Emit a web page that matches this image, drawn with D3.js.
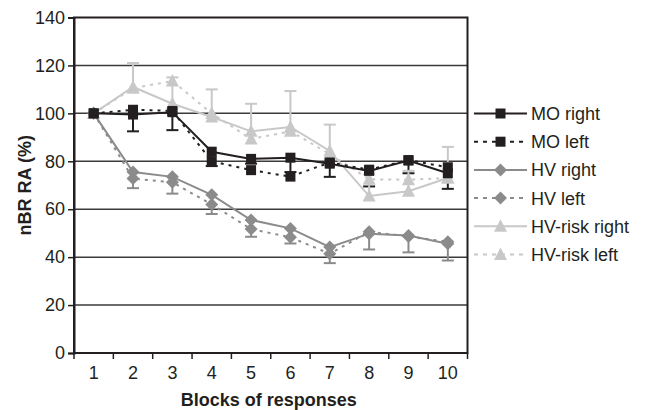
<html>
  <head>
    <style>
      body {
        margin: 0;
        background: #fff;
      }
      text {
        font-family: "Liberation Sans", Arial, sans-serif;
        fill: #231f20;
      }
    </style>
  </head>
  <body>
    <div id="chart"></div>
    <script src="https://d3js.org/d3.v7.min.js"></script>
    <script>
      var blocks = [1, 2, 3, 4, 5, 6, 7, 8, 9, 10];
      var yTicks = [0, 20, 40, 60, 80, 100, 120, 140];

      var moRight = [100, 99.5, 100.5, 84, 81, 81.5, 79, 76, 80.3, 75];
      var moLeft = [100, 101.5, 101, 80, 76.3, 73.6, 79.5, 76.5, 80.5, 77.5];
      var hvRight = [100, 75.5, 73.5, 66, 55.5, 52, 44.2, 49.8, 49, 45.6];
      var hvLeft = [100, 72.8, 71.2, 62, 51.7, 48.3, 41.4, 50.6, 48.6, 46.4];
      var riskRight = [100, 111, 104, 98.5, 92.5, 94.3, 84.3, 65.5, 67.5, 73];
      var riskLeft = [100, 110.5, 113.5, 100, 89.3, 92.5, 83, 72.5, 72.3, 73];

      // one-sided error bars as in the original
      var moErr = [0, 7, 7.5, 6, 2, 6, 5.5, 6.5, 5.3, 6.5];
      var hvErr = [0, 6.7, 7, 8, 7, 6.3, 6.7, 6.6, 7, 7];
      var riskErr = [0, 10, 11, 11.5, 11.5, 15, 11, 9, 8.5, 13];

      var series = [
        { name: "MO right", values: moRight, color: "#231f20", dash: null, shape: "square" },
        { name: "MO left", values: moLeft, color: "#231f20", dash: "3,5", shape: "square" },
        { name: "HV right", values: hvRight, color: "#8b8b8b", dash: null, shape: "diamond" },
        { name: "HV left", values: hvLeft, color: "#8b8b8b", dash: "3,5", shape: "diamond" },
        { name: "HV-risk right", values: riskRight, color: "#c8c8c8", dash: null, shape: "triangle" },
        { name: "HV-risk left", values: riskLeft, color: "#c8c8c8", dash: "3,5", shape: "triangle" }
      ];

      var errors = [
        { values: moRight, err: moErr, dir: -1, color: "#231f20" },
        { values: hvRight, err: hvErr, dir: -1, color: "#8b8b8b" },
        { values: riskRight, err: riskErr, dir: 1, color: "#c8c8c8" }
      ];

      var width = 646,
        height = 410,
        plotLeft = 74,
        plotRight = 467.5,
        plotTop = 17.5,
        plotBottom = 353,
        fontSize = "18px";

      var svg = d3
        .select("#chart")
        .append("svg")
        .attr("width", width)
        .attr("height", height);

      var x = d3.scaleBand().domain(blocks).range([plotLeft, plotRight]);
      var y = d3.scaleLinear().domain([0, 140]).range([plotBottom, plotTop]);

      // gridlines
      svg
        .append("g")
        .selectAll("line")
        .data(yTicks.slice(1, -1))
        .enter()
        .append("line")
        .attr("x1", plotLeft)
        .attr("x2", plotRight)
        .attr("y1", function (d) { return y(d); })
        .attr("y2", function (d) { return y(d); })
        .attr("stroke", "#3a3a3a")
        .attr("stroke-width", 1.5);

      // frame
      svg
        .append("rect")
        .attr("x", plotLeft)
        .attr("y", plotTop)
        .attr("width", plotRight - plotLeft)
        .attr("height", plotBottom - plotTop)
        .attr("fill", "none")
        .attr("stroke", "#231f20")
        .attr("stroke-width", 2);

      // y axis
      var yAxis = svg
        .append("g")
        .attr("transform", "translate(" + plotLeft + ",0)")
        .call(d3.axisLeft(y).tickValues(yTicks).tickSize(6).tickPadding(3));
      yAxis.select(".domain").attr("stroke", "#231f20").attr("stroke-width", 2);
      yAxis.selectAll(".tick line").attr("stroke", "#231f20").attr("stroke-width", 1.5);
      yAxis.selectAll("text").style("font-size", fontSize).attr("fill", "#231f20");

      // x axis: ticks sit between the blocks
      var xAxis = svg
        .append("g")
        .attr("transform", "translate(0," + plotBottom + ")")
        .call(d3.axisBottom(x).tickSize(0).tickPadding(13));
      xAxis.select(".domain").remove();
      xAxis.selectAll("text").style("font-size", fontSize).attr("fill", "#231f20");
      svg
        .append("g")
        .selectAll("line")
        .data(blocks.concat([11]))
        .enter()
        .append("line")
        .attr("x1", function (d) { return d === 11 ? plotRight : x(d); })
        .attr("x2", function (d) { return d === 11 ? plotRight : x(d); })
        .attr("y1", plotBottom)
        .attr("y2", plotBottom + 6)
        .attr("stroke", "#231f20")
        .attr("stroke-width", 1.5);

      // axis titles
      svg
        .append("text")
        .attr("x", (plotLeft + plotRight) / 2 - 2)
        .attr("y", 406)
        .attr("text-anchor", "middle")
        .style("font-size", fontSize)
        .style("font-weight", "bold")
        .text("Blocks of responses");

      svg
        .append("text")
        .attr("transform", "translate(31," + (plotTop + plotBottom) / 2 + ") rotate(-90)")
        .attr("text-anchor", "middle")
        .style("font-size", fontSize)
        .style("font-weight", "bold")
        .text("nBR RA (%)");

      function cx(i) {
        return x(blocks[i]) + x.bandwidth() / 2;
      }

      function marker(sel, shape, color) {
        if (shape === "square") {
          sel.append("rect").attr("x", -5).attr("y", -5).attr("width", 10).attr("height", 10).attr("fill", color);
        } else if (shape === "diamond") {
          sel.append("path").attr("d", "M0,-6.5L6.5,0L0,6.5L-6.5,0Z").attr("fill", color);
        } else {
          sel.append("path").attr("d", "M0,-7L6.5,5.5L-6.5,5.5Z").attr("fill", color);
        }
      }

      // error bars
      errors.forEach(function (e) {
        var g = svg.append("g");
        e.values.forEach(function (v, i) {
          if (!e.err[i]) return;
          var yEnd = y(v + e.dir * e.err[i]);
          g.append("line")
            .attr("x1", cx(i)).attr("x2", cx(i))
            .attr("y1", y(v)).attr("y2", yEnd)
            .attr("stroke", e.color).attr("stroke-width", 2);
          g.append("line")
            .attr("x1", cx(i) - 6).attr("x2", cx(i) + 6)
            .attr("y1", yEnd).attr("y2", yEnd)
            .attr("stroke", e.color).attr("stroke-width", 2);
        });
      });

      var line = d3
        .line()
        .x(function (d, i) { return cx(i); })
        .y(function (d) { return y(d); });

      // draw lighter series first so the black ones sit on top
      series.slice().reverse().forEach(function (s) {
        svg
          .append("path")
          .datum(s.values)
          .attr("d", line)
          .attr("fill", "none")
          .attr("stroke", s.color)
          .attr("stroke-width", 2)
          .attr("stroke-dasharray", s.dash);
        s.values.forEach(function (v, i) {
          var g = svg.append("g").attr("transform", "translate(" + cx(i) + "," + y(v) + ")");
          marker(g, s.shape, s.color);
        });
      });

      // legend
      var legend = svg
        .append("g")
        .selectAll("g")
        .data(series)
        .enter()
        .append("g")
        .attr("transform", function (d, i) {
          return "translate(474," + (113.5 + i * 28.2) + ")";
        });

      legend
        .append("line")
        .attr("x1", 0)
        .attr("x2", 53)
        .attr("stroke", function (d) { return d.color; })
        .attr("stroke-width", 2)
        .attr("stroke-dasharray", function (d) { return d.dash ? "4,5" : null; });

      legend.each(function (d) {
        var g = d3.select(this).append("g").attr("transform", "translate(26.5,0)");
        marker(g, d.shape, d.color);
      });

      legend
        .append("text")
        .attr("x", 57)
        .attr("dy", "0.36em")
        .style("font-size", fontSize)
        .text(function (d) { return d.name; });
    </script>
  </body>
</html>
